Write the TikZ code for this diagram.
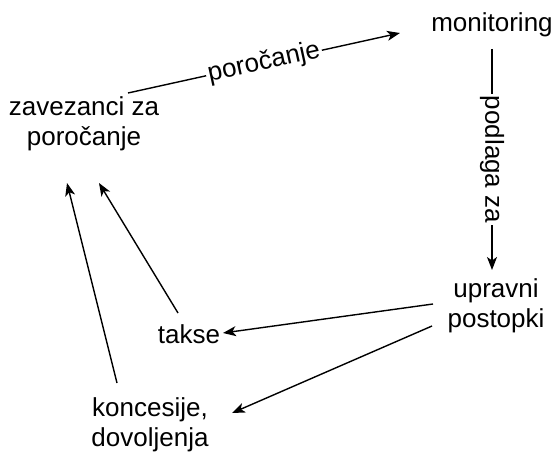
\documentclass[tikz,border=0pt]{standalone}
\usepackage{fontspec}
\setmainfont{Liberation Sans}
\usetikzlibrary{arrows.meta,calc}

\begin{document}
\begin{tikzpicture}[x=1pt,y=-1pt,
  lbl/.style={inner sep=0pt,align=center,font=\fontsize{26}{30}\selectfont},
  conn/.style={line width=1.4pt,-{Stealth[length=13pt,width=10pt,inset=3.5pt]}},
  edgelbl/.style={fill=white,inner sep=2pt,font=\fontsize{26}{30}\selectfont,sloped}]
  \useasboundingbox (0,0) rectangle (556,452);

  % concepts
  \node[lbl] (mon) at (492,25) {monitoring};
  \node[lbl] (zav) at (84,124) {zavezanci za\\poročanje};
  \node[lbl] (upr) at (496,306) {upravni\\postopki};
  \node[lbl] (takse) at (189,334) {takse};
  \node[lbl] (konc) at (150,425) {koncesije,\\dovoljenja};

  % relations
  \draw[conn] ($(zav)+(44,-31)$) -- node[edgelbl] {poročanje} ($(mon)+(-92,8)$);
  \draw[conn] ($(mon)+(0,24)$) -- node[edgelbl] {podlaga za} ($(mon)+(0,245)$);
  \draw[conn] ($(takse)+(-11,-21)$) -- ($(zav)+(15,59)$);
  \draw[conn] ($(konc)+(-33,-42)$) -- ($(zav)+(-17,59)$);
  \draw[conn] ($(upr)+(-63,-2)$) -- ($(takse)+(34,-1)$);
  \draw[conn] ($(upr)+(-64,20)$) -- ($(konc)+(82,-12)$);
\end{tikzpicture}
\end{document}
